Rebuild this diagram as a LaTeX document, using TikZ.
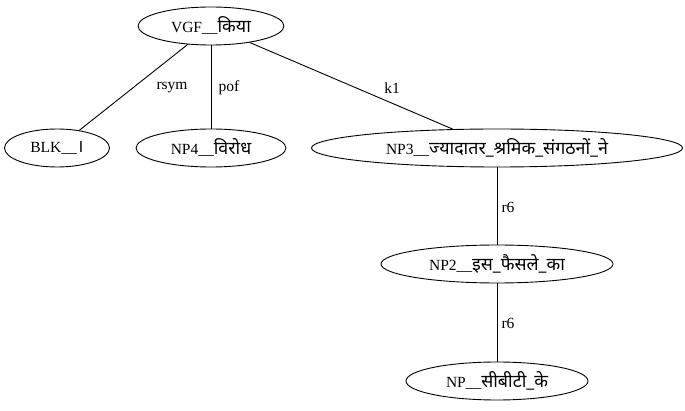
\documentclass[tikz,border=0pt]{standalone}
\usepackage{fontspec}
\setmainfont{Liberation Serif}
\newfontfamily\hindi[Script=Devanagari,Scale=1.15]{Noto Sans}
\usetikzlibrary{shapes.geometric}
\begin{document}
\begin{tikzpicture}[x=1pt, y=-1pt, font=\fontsize{15.5}{18}\selectfont, line width=0.9pt,
        chunk/.style={draw, ellipse, inner sep=0pt, minimum height=38pt},
        rel/.style={inner sep=1pt}]
    \useasboundingbox (0,0) rectangle (685,411);
    % chunks
    \node[chunk, minimum width=146pt] (vgf) at (211,26) {VGF\_\_{\hindi किया}};
    \node[chunk, minimum width=105pt] (blk) at (57,148) {BLK\_\_{\hindi ।}};
    \node[chunk, minimum width=150pt] (np4) at (211,148) {NP4\_\_{\hindi विरोध}};
    \node[chunk, minimum width=371pt] (np3) at (497,148) {NP3\_\_{\hindi ज्यादातर\_श्रमिक\_संगठनों\_ने}};
    \node[chunk, minimum width=232pt] (np2) at (497,264) {NP2\_\_{\hindi इस\_फैसले\_का}};
    \node[chunk, minimum width=182pt] (np) at (497,381) {NP\_\_{\hindi सीबीटी\_के}};
    % relations
    \draw (vgf) -- (blk);
    \draw (vgf) -- (np4);
    \draw (vgf) -- (np3);
    \draw (np3) -- (np2);
    \draw (np2) -- (np);
    \node[rel] (rsym) at (172,88) {rsym};
    \node[rel] (pof) at (229,88) {pof};
    \node[rel] (k1) at (392,88) {k1};
    \node[rel] (r6a) at (508,207) {r6};
    \node[rel] (r6b) at (508,323) {r6};
\end{tikzpicture}
\end{document}
